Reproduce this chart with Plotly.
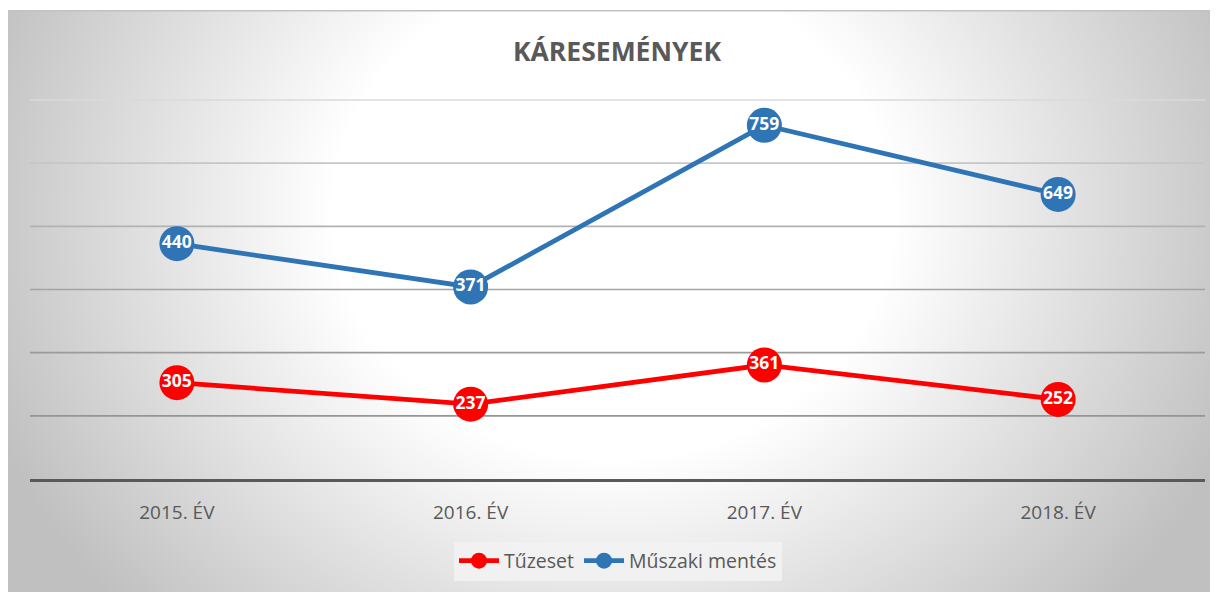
import base64
import plotly.graph_objects as go

# ---- data ----
years = ["2015. ÉV", "2016. ÉV", "2017. ÉV", "2018. ÉV"]
tuzeset = [305, 237, 361, 252]
muszaki = [440, 371, 759, 649]
series_names = ["Tűzeset", "Műszaki mentés"]
grid_vals = [200, 400, 600, 800, 1000, 1200]
grid_colors = ["#959595", "#9b9b9b", "#a4a4a4", "#b2b2b2", "#c6c6c6", "#dadada"]

RED = "#FF0000"
BLUE = "#2F75B5"
TXT = "#595959"
FONT = "Open Sans"

# page has an 8px body margin, so figure coords = reference coords - 8
W, H = 1210, 584
ML, MR, MB = 22, 13, 113
Y_TOP_PX = 92               # pixel where 1200 sits
PX_PER_UNIT = (H - MB - Y_TOP_PX) / 1200.0
MT = 86
YMAX = 1200 + (Y_TOP_PX - MT) / PX_PER_UNIT
PW, PH = W - ML - MR, H - MT - MB

svg = f'''<svg xmlns="http://www.w3.org/2000/svg" width="1210" height="582" viewBox="0 0 1210 582" preserveAspectRatio="none">
<defs><radialGradient id="g" cx="0.5" cy="0.35" r="0.55" gradientTransform="translate(0.5 0.35) scale(1 1.818) translate(-0.5 -0.35)">
<stop offset="0" stop-color="#ffffff"/><stop offset="0.42" stop-color="#ffffff"/><stop offset="1" stop-color="#c0c0c0"/>
</radialGradient></defs>
<rect x="0" y="0" width="1210" height="582" fill="url(#g)"/>
<rect x="0" y="0" width="1210" height="1.5" fill="#c2c2c2"/>
</svg>'''
src = "data:image/svg+xml;base64," + base64.b64encode(svg.encode()).decode()

fig = go.Figure()
for name, vals, col in [(series_names[0], tuzeset, RED), (series_names[1], muszaki, BLUE)]:
    fig.add_trace(go.Scatter(
        x=years, y=vals, name=name, stackgroup="lines", fill="none",
        mode="lines+markers", line=dict(color=col, width=4.8),
        marker=dict(color=col, size=35), hoverinfo="skip",
    ))
for name, vals in [(series_names[0], tuzeset), (series_names[1], muszaki)]:
    fig.add_trace(go.Scatter(
        x=years, y=vals, name=name, stackgroup="labels", fill="none",
        mode="text", text=[str(v) for v in vals], textposition="middle center",
        textfont=dict(family=FONT, size=17.5, color="white", weight="bold"),
        showlegend=False, hoverinfo="skip", line=dict(width=0),
    ))

for gv, gc in zip(grid_vals, grid_colors):
    fig.add_shape(type="line", xref="paper", x0=0, x1=1, yref="y", y0=gv, y1=gv,
                  line=dict(color=gc, width=1.6), layer="below")

fig.add_layout_image(dict(
    source=src, xref="paper", yref="paper",
    x=(0 - ML) / PW, y=(H - MB - 2) / PH, sizex=1210 / PW, sizey=582 / PH,
    xanchor="left", yanchor="top", sizing="stretch", layer="below",
))

fig.update_layout(
    width=W, height=H,
    margin=dict(l=ML, r=MR, t=MT, b=MB, pad=0),
    paper_bgcolor="white", plot_bgcolor="rgba(0,0,0,0)",
    title=dict(text="<b>KÁRESEMÉNYEK</b>", x=(617 - 8) / W, xanchor="center",
               y=1 - 44 / H, yanchor="middle",
               font=dict(family=FONT, size=26.5, color=TXT)),
    xaxis=dict(type="category", range=[-0.5, 3.5], showgrid=False,
               showline=True, linecolor="#595959", linewidth=2.5,
               ticks="", ticklabelstandoff=14,
               tickfont=dict(family=FONT, size=19, color=TXT), fixedrange=True),
    yaxis=dict(range=[0, YMAX], tickvals=grid_vals, showticklabels=False,
               showgrid=False, zeroline=False, fixedrange=True),
    legend=dict(orientation="h", x=(618 - 8 - ML) / PW, xanchor="center",
                yref="container", y=1 - 553 / H, yanchor="middle",
                bgcolor="rgba(242,242,242,0.9)",
                font=dict(family=FONT, size=19.5, color=TXT),
                itemwidth=40, tracegroupgap=0),
    hovermode=False,
    showlegend=True,
)

fig.write_html("out.html")
